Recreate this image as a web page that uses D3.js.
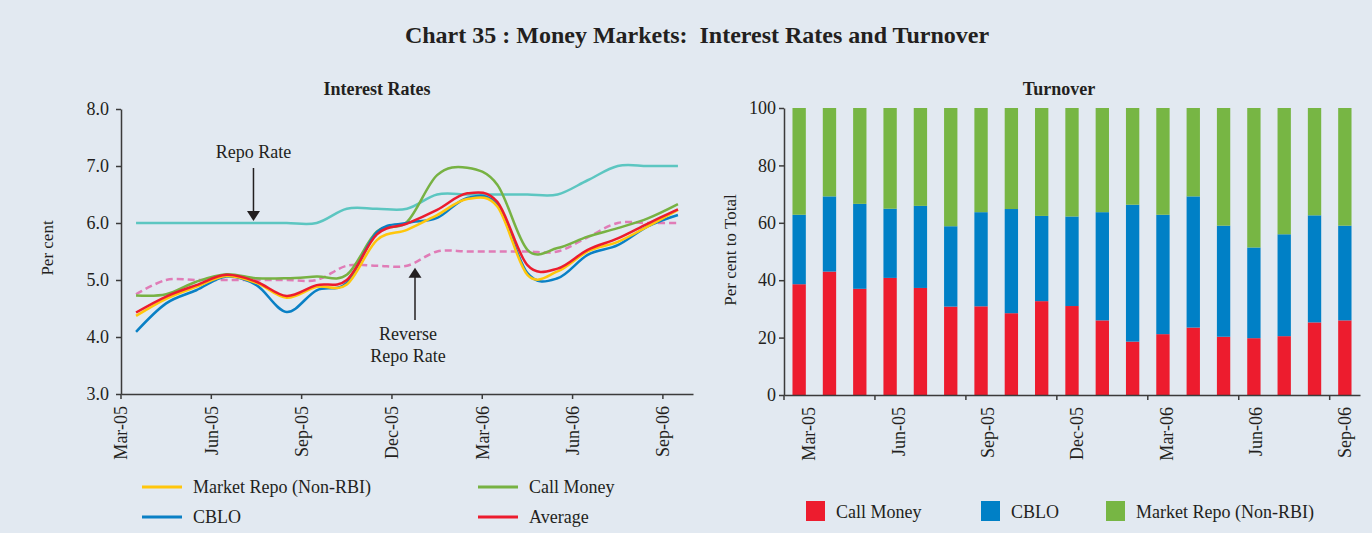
<!DOCTYPE html>
<html>
<head>
<meta charset="utf-8">
<script src="https://cdn.jsdelivr.net/npm/d3@7"></script>
<style>
  body { margin: 0; background: #e2e9f1; }
  text { font-family: "Liberation Serif", "Times New Roman", serif; fill: #231f20; }
</style>
</head>
<body>
<div id="main"></div>
<script>
const ctx = {
    w: 1372,
    h: 533,
};

// months, Mar-05 .. Sep-06
const months = ["Mar-05", "Apr-05", "May-05", "Jun-05", "Jul-05", "Aug-05", "Sep-05", "Oct-05", "Nov-05", "Dec-05",
                "Jan-06", "Feb-06", "Mar-06", "Apr-06", "May-06", "Jun-06", "Jul-06", "Aug-06", "Sep-06"];
const tickMonths = ["Mar-05", "Jun-05", "Sep-05", "Dec-05", "Mar-06", "Jun-06", "Sep-06"];

// interest rates (per cent)
const repoRate        = [6.0, 6.0, 6.0, 6.0, 6.0, 6.0, 6.0, 6.25, 6.25, 6.25, 6.5, 6.5, 6.5, 6.5, 6.5, 6.75, 7.0, 7.0, 7.0];
const reverseRepoRate = [4.75, 5.0, 5.0, 5.0, 5.0, 5.0, 5.0, 5.25, 5.25, 5.25, 5.5, 5.5, 5.5, 5.5, 5.5, 5.75, 6.0, 6.0, 6.0];
const callMoney       = [4.73, 4.75, 4.97, 5.10, 5.03, 5.03, 5.06, 5.09, 5.85, 6.02, 6.84, 6.97, 6.67, 5.53, 5.56, 5.76, 5.91, 6.08, 6.33];
const marketRepo      = [4.37, 4.67, 4.88, 5.07, 4.95, 4.69, 4.88, 4.92, 5.70, 5.88, 6.14, 6.42, 6.29, 5.09, 5.15, 5.50, 5.67, 5.94, 6.23];
const cblo            = [4.09, 4.59, 4.82, 5.06, 4.91, 4.44, 4.82, 4.95, 5.84, 6.00, 6.09, 6.44, 6.32, 5.12, 5.03, 5.44, 5.61, 5.94, 6.14];
const average         = [4.43, 4.71, 4.91, 5.09, 4.97, 4.72, 4.91, 5.00, 5.80, 5.99, 6.23, 6.52, 6.37, 5.26, 5.20, 5.53, 5.73, 5.99, 6.24];
const rateTicks = [3, 4, 5, 6, 7, 8];

// turnover shares (per cent to total)
const callShare  = [38.6, 43.0, 37.0, 40.8, 37.3, 30.8, 30.9, 28.5, 32.7, 31.0, 26.0, 18.6, 21.2, 23.5, 20.3, 19.8, 20.5, 25.3, 26.0];
const cbloShare  = [24.2, 26.2, 29.6, 24.1, 28.6, 28.0, 32.8, 36.3, 29.7, 31.2, 37.7, 47.7, 41.6, 45.7, 38.7, 31.6, 35.5, 37.3, 33.0];
const repoShare  = [37.2, 30.8, 33.4, 35.1, 34.1, 41.2, 36.3, 35.2, 37.6, 37.8, 36.3, 33.7, 37.2, 30.8, 41.0, 48.6, 44.0, 37.4, 41.0];
const shareTicks = [0, 20, 40, 60, 80, 100];

const col = {
    repo: "#5cc6c1",
    reverse: "#e07cb7",
    call: "#77b243",
    market: "#ffc60b",
    cblo: "#0a80c5",
    avg: "#ec1c2e",
    barCall: "#ed1c2e",
    barCblo: "#0080c6",
    barRepo: "#77b644",
};

function styleAxis(g) {
    g.selectAll("path, line").attr("stroke", "#3b3b3b").attr("stroke-width", 1.5);
    g.selectAll("text").style("font-size", "18px").attr("fill", "#231f20")
     .style("font-family", "'Liberation Serif', serif");
}

function createRateChart(svgEl) {
    const x = d3.scaleBand().domain(months).range([121, 693]).paddingInner(0).paddingOuter(0);
    const y = d3.scaleLinear().domain([3, 8]).range([394, 109]);
    const cx = m => x(m) + x.bandwidth() / 2;

    const xAxis = svgEl.append("g")
        .attr("transform", "translate(0,394)")
        .call(d3.axisBottom(x).tickValues(tickMonths).tickSize(5).tickSizeOuter(0));
    // ticks sit on the month boundaries
    xAxis.selectAll(".tick").attr("transform", d => `translate(${x(d)},0)`);
    xAxis.selectAll(".tick text")
        .attr("transform", "rotate(-90)")
        .attr("x", -12).attr("y", 0).attr("dy", "0.35em")
        .style("text-anchor", "end");
    styleAxis(xAxis);

    const yAxis = svgEl.append("g")
        .attr("transform", "translate(121,0)")
        .call(d3.axisLeft(y).tickValues(rateTicks).tickFormat(d3.format(".1f")).tickSize(5).tickPadding(7).tickSizeOuter(0));
    styleAxis(yAxis);

    svgEl.append("text")
        .attr("transform", "translate(53,248) rotate(-90)")
        .attr("text-anchor", "middle")
        .style("font-size", "17px")
        .text("Per cent");

    const line = d3.line()
        .x((d, i) => cx(months[i]))
        .y(d => y(d))
        .curve(d3.curveCardinal.tension(0));

    const series = [
        { vals: repoRate, color: col.repo, dash: null, w: 2.5 },
        { vals: reverseRepoRate, color: col.reverse, dash: "7,4", w: 2.5 },
        { vals: callMoney, color: col.call, dash: null, w: 2.5 },
        { vals: cblo, color: col.cblo, dash: null, w: 2.5 },
        { vals: marketRepo, color: col.market, dash: null, w: 2.5 },
        { vals: average, color: col.avg, dash: null, w: 2.5 },
    ];
    series.forEach(s => {
        svgEl.append("path")
            .datum(s.vals)
            .attr("d", line)
            .attr("fill", "none")
            .attr("stroke", s.color)
            .attr("stroke-width", s.w)
            .attr("stroke-dasharray", s.dash);
    });

    // annotations
    const arrow = (ax, y0, y1) => {
        svgEl.append("line").attr("x1", ax).attr("x2", ax).attr("y1", y0).attr("y2", y1 + (y1 > y0 ? -8 : 8))
            .attr("stroke", "#231f20").attr("stroke-width", 1.5);
        const s = y1 > y0 ? -1 : 1;
        svgEl.append("path")
            .attr("d", `M${ax - 6.5},${y1 + s * 10}L${ax + 6.5},${y1 + s * 10}L${ax},${y1}Z`)
            .attr("fill", "#231f20");
    };
    const repoX = cx("Jul-05") - 3;
    arrow(repoX, 168, y(6.0) - 2);
    svgEl.append("text").attr("x", repoX).attr("y", 158).attr("text-anchor", "middle")
        .style("font-size", "18px").text("Repo Rate");

    const revX = cx("Dec-05") + 8;
    arrow(revX, 320, y(5.25) + 2);
    svgEl.append("text").attr("x", revX - 7).attr("y", 340).attr("text-anchor", "middle")
        .style("font-size", "18px").text("Reverse");
    svgEl.append("text").attr("x", revX - 7).attr("y", 362).attr("text-anchor", "middle")
        .style("font-size", "18px").text("Repo Rate");

    svgEl.append("text")
        .attr("x", 377).attr("y", 95)
        .attr("text-anchor", "middle")
        .style("font-size", "18px").style("font-weight", "bold")
        .text("Interest Rates");

    // legend
    const legendData = [
        { label: "Market Repo (Non-RBI)", color: col.market, x: 142, y: 487 },
        { label: "Call Money", color: col.call, x: 478, y: 487 },
        { label: "CBLO", color: col.cblo, x: 142, y: 517 },
        { label: "Average", color: col.avg, x: 478, y: 517 },
    ];
    legendData.forEach(d => {
        const row = svgEl.append("g").attr("transform", `translate(${d.x},${d.y})`);
        row.append("line").attr("x1", 0).attr("x2", 40).attr("y1", 0).attr("y2", 0)
            .attr("stroke", d.color).attr("stroke-width", 3);
        row.append("text").attr("x", 51).attr("y", 6)
            .style("font-size", "18px").text(d.label);
    });
}

function createTurnoverChart(svgEl) {
    const x = d3.scaleBand().domain(months).range([784, 1360]).paddingInner(0.56).paddingOuter(0.28);
    const y = d3.scaleLinear().domain([0, 100]).range([395, 108]);
    const step = x.step();

    const stackData = months.map((m, i) => ({ month: m, call: callShare[i], cblo: cbloShare[i], repo: repoShare[i] }));
    const stacked = d3.stack().keys(["call", "cblo", "repo"])(stackData);
    const colors = { call: col.barCall, cblo: col.barCblo, repo: col.barRepo };

    svgEl.append("g").selectAll("g")
        .data(stacked)
        .enter().append("g")
        .attr("fill", d => colors[d.key])
        .selectAll("rect")
        .data(d => d)
        .enter().append("rect")
        .attr("x", d => x(d.data.month))
        .attr("width", x.bandwidth())
        .attr("y", d => y(d[1]))
        .attr("height", d => y(d[0]) - y(d[1]));

    const xAxis = svgEl.append("g")
        .attr("transform", "translate(0,395)")
        .call(d3.axisBottom(x).tickValues(tickMonths).tickSize(5).tickSizeOuter(0));
    xAxis.selectAll(".tick").attr("transform", d => `translate(${x(d) - step * 0.28},0)`);
    // labels drift from right of the bar (first) to the bar centre (last)
    const n = months.length - 1;
    xAxis.selectAll(".tick text")
        .attr("transform", "rotate(-90)")
        .attr("x", -12)
        .attr("y", d => step * 0.5 + 10 * (1 - months.indexOf(d) / n))
        .attr("dy", "0.35em")
        .style("text-anchor", "end");
    styleAxis(xAxis);

    const yAxis = svgEl.append("g")
        .attr("transform", "translate(784,0)")
        .call(d3.axisLeft(y).tickValues(shareTicks).tickSize(5).tickPadding(3).tickSizeOuter(0));
    styleAxis(yAxis);

    svgEl.append("text")
        .attr("transform", "translate(736,250) rotate(-90)")
        .attr("text-anchor", "middle")
        .style("font-size", "17px")
        .text("Per cent to Total");

    svgEl.append("text")
        .attr("x", 1059).attr("y", 95)
        .attr("text-anchor", "middle")
        .style("font-size", "18px").style("font-weight", "bold")
        .text("Turnover");

    const legendData = [
        { label: "Call Money", color: col.barCall, x: 806 },
        { label: "CBLO", color: col.barCblo, x: 981 },
        { label: "Market Repo (Non-RBI)", color: col.barRepo, x: 1106 },
    ];
    legendData.forEach(d => {
        const row = svgEl.append("g").attr("transform", `translate(${d.x},501)`);
        row.append("rect").attr("width", 19).attr("height", 20).attr("fill", d.color);
        row.append("text").attr("x", 30).attr("y", 17).style("font-size", "18px").text(d.label);
    });
}

function createViz() {
    const svgEl = d3.select("#main").append("svg")
        .attr("width", ctx.w)
        .attr("height", ctx.h);
    svgEl.append("rect").attr("width", ctx.w).attr("height", ctx.h).attr("fill", "#e2e9f1");

    svgEl.append("text")
        .attr("x", 697).attr("y", 43)
        .attr("text-anchor", "middle")
        .style("font-size", "24px").style("font-weight", "bold")
        .style("white-space", "pre")
        .text("Chart 35 : Money Markets:  Interest Rates and Turnover");

    createRateChart(svgEl);
    createTurnoverChart(svgEl);
}

createViz();
</script>
</body>
</html>
